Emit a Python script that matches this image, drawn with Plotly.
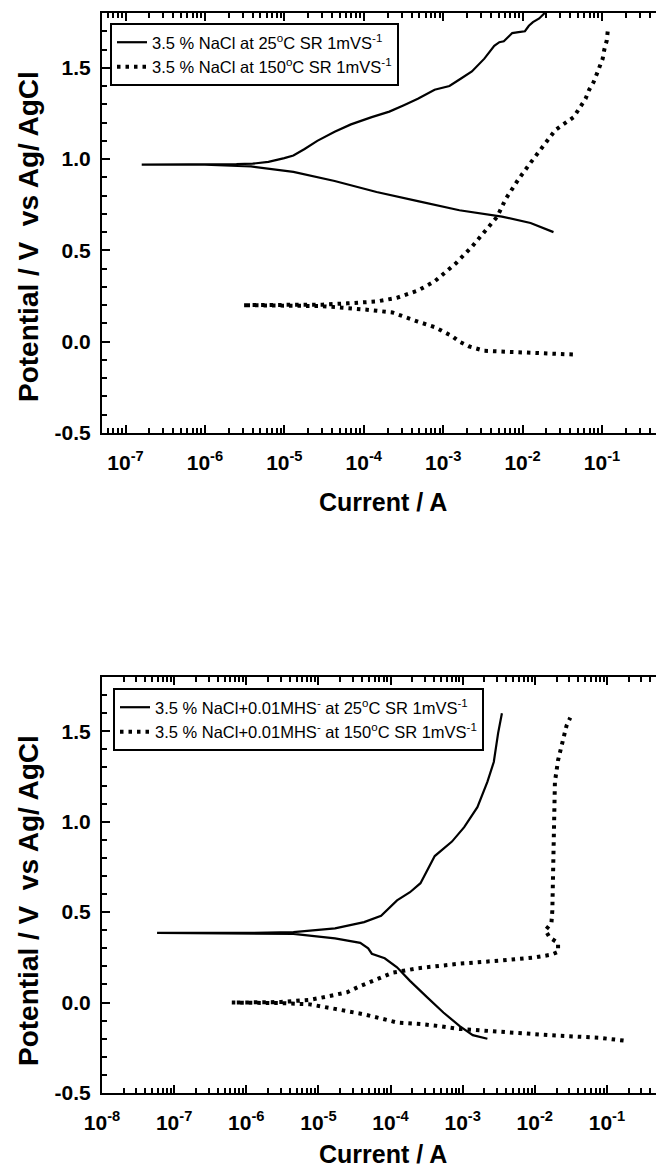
import plotly.graph_objects as go

# ---- Panel A: 3.5 % NaCl ----
# 25 °C, 1 mV/s: cathodic branch (outer end -> Ecorr) then anodic branch (Ecorr -> outer end)
a25_cath_i = [2.45e-2, 1.8e-2, 1.26e-2, 5.5e-3, 1.6e-3, 4.8e-4, 1.45e-4, 4.3e-5, 1.3e-5, 3.8e-6, 1.0e-6]
a25_cath_v = [0.60, 0.625, 0.65, 0.685, 0.72, 0.77, 0.82, 0.88, 0.93, 0.96, 0.97]
a25_anod_i = [1.6e-7, 1.0e-6, 2.5e-6, 4.0e-6, 6.3e-6, 1.0e-5, 1.3e-5, 1.8e-5, 2.6e-5, 4.3e-5,
              6.9e-5, 1.26e-4, 2.1e-4, 3.2e-4, 4.8e-4, 7.8e-4, 1.2e-3, 1.66e-3, 2.3e-3, 3.3e-3,
              4.4e-3, 5.1e-3, 5.8e-3, 6.3e-3, 7.4e-3, 8.9e-3, 1.07e-2, 1.2e-2, 1.35e-2, 1.62e-2, 1.9e-2]
a25_anod_v = [0.97, 0.97, 0.972, 0.975, 0.985, 1.005, 1.02, 1.055, 1.10, 1.15,
              1.19, 1.23, 1.26, 1.295, 1.33, 1.38, 1.40, 1.44, 1.48, 1.55,
              1.62, 1.64, 1.645, 1.66, 1.69, 1.695, 1.70, 1.73, 1.75, 1.77, 1.80]

# 150 °C, 1 mV/s
a150_cath_i = [4.3e-2, 1.8e-2, 1.0e-2, 5.5e-3, 3.3e-3, 2.1e-3, 1.6e-3, 1.3e-3, 1.0e-3, 7.8e-4,
               4.8e-4, 2.3e-4, 1.1e-4, 6.0e-5, 3.0e-5]
a150_cath_v = [-0.07, -0.065, -0.06, -0.055, -0.05, -0.025, 0.0, 0.03, 0.055, 0.08,
               0.11, 0.16, 0.175, 0.185, 0.195]
a150_anod_i = [3.0e-6, 1.0e-5, 3.0e-5, 6.2e-5, 1.45e-4, 2.6e-4, 4.8e-4, 7.8e-4, 1.45e-3, 2.3e-3,
               3.3e-3, 4.8e-3, 6.1e-3, 8.9e-3, 1.26e-2, 1.8e-2, 2.6e-2, 4.4e-2, 5.2e-2, 6.2e-2,
               6.9e-2, 7.8e-2, 8.5e-2, 9.5e-2, 0.102, 0.107, 0.115, 0.118]
a150_anod_v = [0.20, 0.20, 0.203, 0.21, 0.22, 0.24, 0.28, 0.33, 0.43, 0.52,
               0.60, 0.685, 0.78, 0.89, 0.98, 1.07, 1.16, 1.23, 1.28, 1.33,
               1.38, 1.42, 1.46, 1.51, 1.55, 1.60, 1.65, 1.70]

# ---- Panel B: 3.5 % NaCl + 0.01 M HS- ----
b25_cath_i = [2.2e-3, 1.38e-3, 9.1e-4, 5.4e-4, 3.2e-4, 1.86e-4, 1.23e-4, 8.3e-5, 5.5e-5, 4.9e-5,
              3.8e-5, 1.7e-5, 4.5e-6]
b25_cath_v = [-0.20, -0.18, -0.13, -0.055, 0.03, 0.12, 0.195, 0.245, 0.27, 0.30,
              0.33, 0.355, 0.38]
b25_anod_i = [5.8e-8, 1.0e-6, 4.5e-6, 1.7e-5, 4.3e-5, 7.4e-5, 1.23e-4, 1.86e-4, 2.6e-4, 3.2e-4,
              4.1e-4, 7.1e-4, 1.05e-3, 1.6e-3, 2.2e-3, 2.7e-3, 3.1e-3, 3.5e-3]
b25_anod_v = [0.385, 0.385, 0.39, 0.41, 0.445, 0.48, 0.565, 0.61, 0.66, 0.73,
              0.81, 0.89, 0.97, 1.08, 1.22, 1.33, 1.49, 1.60]

b150_cath_i = [0.17, 7.9e-2, 1.6e-2, 3.3e-3, 8.5e-4, 4.7e-4, 2.8e-4, 1.23e-4, 4.3e-5, 1.7e-5,
               7.6e-6, 3.0e-6]
b150_cath_v = [-0.21, -0.195, -0.18, -0.16, -0.145, -0.13, -0.12, -0.11, -0.065, -0.035,
               -0.01, -0.003]
b150_anod_i = [6.3e-7, 3.0e-6, 7.6e-6, 1.3e-5, 2.5e-5, 3.5e-5, 4.9e-5, 7.2e-5, 1.07e-4, 2.4e-4,
               9.1e-4, 3.5e-3, 1.02e-2, 1.7e-2, 2.1e-2, 2.1e-2, 1.6e-2, 1.4e-2, 1.7e-2, 1.75e-2,
               1.78e-2, 1.8e-2, 1.85e-2, 1.9e-2, 2.1e-2, 2.45e-2, 2.75e-2, 3.1e-2]
b150_anod_v = [0.0, 0.003, 0.015, 0.033, 0.057, 0.085, 0.11, 0.14, 0.165, 0.19,
               0.215, 0.233, 0.25, 0.265, 0.28, 0.33, 0.36, 0.40, 0.44, 0.51,
               0.66, 0.84, 1.03, 1.22, 1.34, 1.46, 1.53, 1.575]

legend_a = ["3.5 % NaCl at 25<sup>o</sup>C SR 1mVS<sup>-1</sup>",
            "3.5 % NaCl at 150<sup>o</sup>C SR 1mVS<sup>-1</sup>"]
legend_b = ["3.5 % NaCl+0.01MHS<sup>-</sup> at 25<sup>o</sup>C SR 1mVS<sup>-1</sup>",
            "3.5 % NaCl+0.01MHS<sup>-</sup> at 150<sup>o</sup>C SR 1mVS<sup>-1</sup>"]

x_title = "Current / A"
y_title = "Potential / V  vs Ag/ AgCl"
y_ticks = [-0.5, 0.0, 0.5, 1.0, 1.5]

FONT = "Liberation Sans, Arial, sans-serif"
W, H = 656, 1171

fig = go.Figure()

def add_curve(ci, cv, ai, av, name, dotted, xa, ya, leg):
    line = dict(color="black", width=2.2)
    if dotted:
        line = dict(color="black", width=4, dash="3.5px,5px")
    fig.add_trace(go.Scatter(
        x=ci + ai, y=cv + av, mode="lines", name=name, line=line,
        xaxis=xa, yaxis=ya, legend=leg))

add_curve(a25_cath_i, a25_cath_v, a25_anod_i, a25_anod_v, legend_a[0], False, "x", "y", "legend")
add_curve(a150_cath_i, a150_cath_v, a150_anod_i, a150_anod_v, legend_a[1], True, "x", "y", "legend")
add_curve(b25_cath_i, b25_cath_v, b25_anod_i, b25_anod_v, legend_b[0], False, "x2", "y2", "legend2")
add_curve(b150_cath_i, b150_cath_v, b150_anod_i, b150_anod_v, legend_b[1], True, "x2", "y2", "legend2")

def minor_vals(lo, hi):
    vals = []
    for e in range(lo, hi + 1):
        for k in range(2, 10):
            vals.append(k * 10.0 ** e)
    return vals

def xaxis(decades, rng, anchor):
    return dict(
        type="log", range=rng, domain=[102 / W, 1.0], anchor=anchor, automargin=False,
        showline=True, linecolor="black", linewidth=2, mirror="ticks",
        ticks="inside", ticklen=8, tickwidth=1.5, tickcolor="black",
        tickmode="array", tickvals=[10.0 ** d for d in decades],
        ticktext=["10<sup>%d</sup>" % d for d in decades], ticklabelstandoff=10,
        minor=dict(tickmode="array", tickvals=minor_vals(decades[0] - 1, decades[-1]),
                   ticks="inside", ticklen=5, tickwidth=1.5, tickcolor="black"),
        showgrid=False, zeroline=False,
        tickfont=dict(family=FONT, size=21, color="black", weight="bold"),
    )

def yaxis(dom, anchor):
    return dict(
        range=[-0.5, 1.8], domain=dom, anchor=anchor, automargin=False,
        showline=True, linecolor="black", linewidth=2,
        ticks="inside", ticklen=8, tickwidth=1.5, tickcolor="black",
        tickmode="array", tickvals=y_ticks, ticktext=["%.1f" % v for v in y_ticks],
        ticklabelstandoff=5,
        minor=dict(dtick=0.1, ticks="inside", ticklen=5, tickwidth=1.5, tickcolor="black"),
        showgrid=False, zeroline=False,
        tickfont=dict(family=FONT, size=21, color="black", weight="bold"),
    )

legend_style = dict(
    bgcolor="white", bordercolor="black", borderwidth=2,
    font=dict(family=FONT, size=16.5, color="black"),
    xanchor="left", yanchor="top", tracegroupgap=0, itemwidth=30,
)

# axis titles placed as paper annotations (pixel positions converted to paper units)
title_font_x = dict(family=FONT, size=25, color="black", weight="bold")
title_font_y = dict(family=FONT, size=28, color="black", weight="bold")
annotations = []
for cy in (502, 1154):
    annotations.append(dict(text=x_title, x=383 / W, y=1 - cy / H, xref="paper", yref="paper",
                            xanchor="center", yanchor="middle", showarrow=False, font=title_font_x))
for cy in (237, 901):
    annotations.append(dict(text=y_title, x=28 / W, y=1 - cy / H, xref="paper", yref="paper",
                            xanchor="center", yanchor="middle", textangle=-90,
                            showarrow=False, font=title_font_y))

fig.update_layout(
    width=W, height=H, margin=dict(l=0, r=0, t=0, b=0),
    paper_bgcolor="white", plot_bgcolor="white",
    showlegend=True,
    xaxis=xaxis(list(range(-7, 0)), [-7.296, -0.32], "y"),
    yaxis=yaxis([1 - 433 / H, 1 - 13 / H], "x"),
    xaxis2=xaxis(list(range(-8, 0)), [-8.0, -0.32], "y2"),
    yaxis2=yaxis([1 - 1093 / H, 1 - 677 / H], "x2"),
    legend=dict(x=110 / W, y=1 - 23 / H, **legend_style),
    legend2=dict(x=113 / W, y=1 - 688 / H, **legend_style),
    annotations=annotations,
)

fig.write_html("out.html")
